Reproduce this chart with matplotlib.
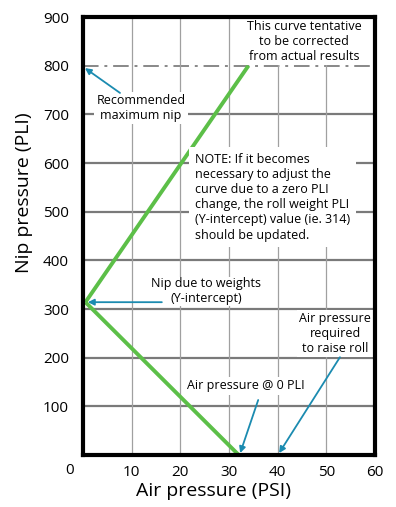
import matplotlib
matplotlib.use("Agg")
import matplotlib.pyplot as plt

# Data
upper_x = [0.5, 34.0]
upper_y = [314, 800]
lower_x = [0.5, 32.0]
lower_y = [314, 0]
max_nip = 800
x_ticks = [10, 20, 30, 40, 50, 60]
y_ticks = [100, 200, 300, 400, 500, 600, 700, 800, 900]

FONT = ["Open Sans", "DejaVu Sans"]
plt.rcParams['font.family'] = FONT

fig = plt.figure(figsize=(3.96, 5.07), dpi=100)
ax = fig.add_axes([83/396, 1-455/507, (375-83)/396, (455-17)/507])
ax.set_xlim(0, 60)
ax.set_ylim(0, 900)

# grid
for yv in y_ticks[:-1]:
    if yv == max_nip:
        continue
    ax.axhline(yv, color="#7a7a7a", lw=1.6, zorder=1)
ax.axhline(max_nip, color="#888888", lw=1.4, ls=(0, (8, 3, 1.5, 3)), zorder=1)
for xv in x_ticks[:-1]:
    ax.axvline(xv, color="#a0a0a0", lw=0.9, zorder=1)

ax.plot(upper_x, upper_y, color="#5cbf48", lw=2.8, zorder=3, solid_capstyle="butt")
ax.plot(lower_x, lower_y, color="#5cbf48", lw=2.8, zorder=3, solid_capstyle="butt")

for s in ax.spines.values():
    s.set_linewidth(3.0)
    s.set_color("black")
    s.set_zorder(6)

ax.set_xticks(x_ticks)
ax.set_yticks(y_ticks)
ax.tick_params(length=0, labelsize=11, pad=10)
ax.tick_params(axis='x', pad=7)
fig.text(70/396, 1-470/507, "0", fontsize=11, ha="center", va="center")
fig.text(213/396, 1-491/507, "Air pressure (PSI)", fontsize=14, ha="center", va="center")
fig.text(24/396, 1-193/507, "Nip pressure (PLI)", fontsize=14, ha="center", va="center",
         rotation=90)

bbox = dict(facecolor="white", edgecolor="none", pad=1.5)
tfs = 9
teal = "#1b8bb0"
ap = dict(arrowstyle="-|>", color=teal, lw=1.3, mutation_scale=9, shrinkA=0, shrinkB=0)

ax.text(11.9, 713, "Recommended\nmaximum nip", fontsize=tfs, ha="center", va="center",
        bbox=bbox, zorder=4, linespacing=1.2)
ax.text(45.4, 849, "This curve tentative\nto be corrected\nfrom actual results", fontsize=tfs,
        ha="center", va="center", bbox=bbox, zorder=4, linespacing=1.2)
ax.text(23.0, 530, "NOTE: If it becomes\nnecessary to adjust the\ncurve due to a zero PLI\n"
        "change, the roll weight PLI\n(Y-intercept) value (ie. 314)\nshould be updated.",
        fontsize=tfs, ha="left", va="center", bbox=dict(facecolor="white", edgecolor="none", pad=4),
        zorder=4, linespacing=1.22)
ax.text(25.3, 336, "Nip due to weights\n(Y-intercept)", fontsize=tfs, ha="center", va="center",
        bbox=dict(facecolor="white", edgecolor="none", pad=0.3), zorder=4, linespacing=1.2)
ax.text(51.8, 249, "Air pressure\nrequired\nto raise roll", fontsize=tfs, ha="center", va="center",
        bbox=bbox, zorder=4, linespacing=1.2)
ax.text(33.5, 142, "Air pressure @ 0 PLI", fontsize=tfs, ha="center", va="center",
        bbox=bbox, zorder=4)

ax.annotate("", xy=(0.4, 795), xytext=(7.6, 744), arrowprops=ap, zorder=5)
ax.annotate("", xy=(1.0, 314), xytext=(16.2, 314), arrowprops=ap, zorder=5)
ax.annotate("", xy=(32.3, 4), xytext=(36.0, 113), arrowprops=ap, zorder=5)
ax.annotate("", xy=(40.3, 4), xytext=(52.8, 201), arrowprops=ap, zorder=5)

fig.savefig("out.png", dpi=100)
